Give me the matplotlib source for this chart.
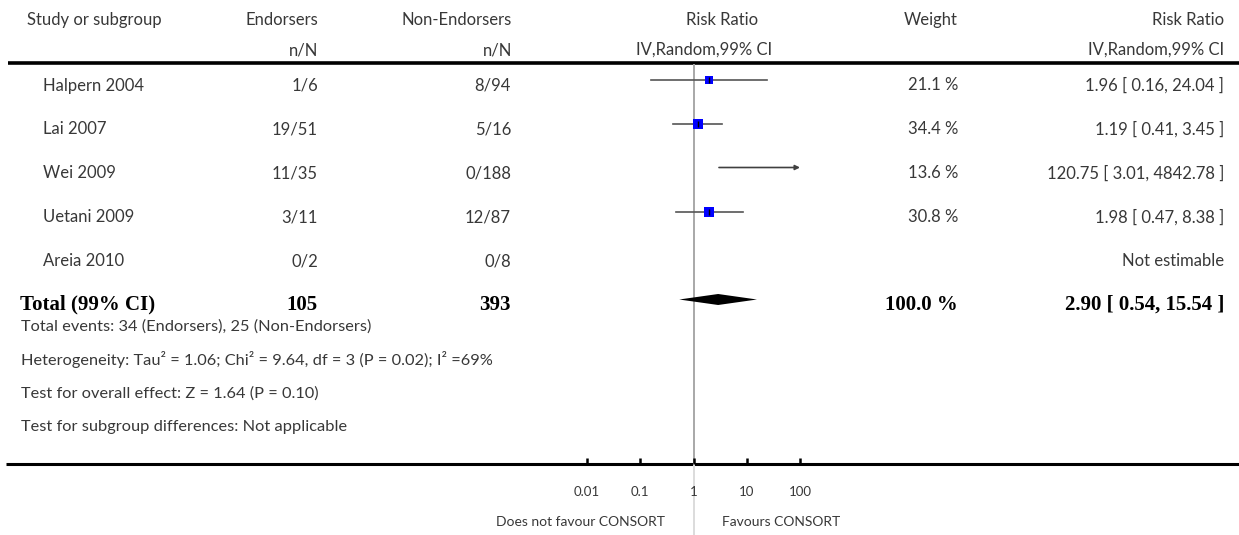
import matplotlib
matplotlib.use('Agg')
import matplotlib.pyplot as plt
import numpy as np

# study rows
studies = ['Halpern 2004', 'Lai 2007', 'Wei 2009', 'Uetani 2009', 'Areia 2010']
endorsers = ['1/6', '19/51', '11/35', '3/11', '0/2']
non_endorsers = ['8/94', '5/16', '0/188', '12/87', '0/8']
weights = [21.1, 34.4, 13.6, 30.8, None]
rr = [1.96, 1.19, 120.75, 1.98, None]
rr_lo = [0.16, 0.41, 3.01, 0.47, None]
rr_hi = [24.04, 3.45, 4842.78, 8.38, None]

# pooled estimate
total_label = 'Total (99% CI)'
total_endorsers = 105
total_non_endorsers = 393
total_weight = 100.0
total_rr, total_lo, total_hi = 2.90, 0.54, 15.54

footnotes = ['Total events: 34 (Endorsers), 25 (Non-Endorsers)',
             'Heterogeneity: Tau\u00b2 = 1.06; Chi\u00b2 = 9.64, df = 3 (P = 0.02); I\u00b2 =69%',
             'Test for overall effect: Z = 1.64 (P = 0.10)',
             'Test for subgroup differences: Not applicable']

xticks = [0.01, 0.1, 1, 10, 100]
xticklabels = ['0.01', '0.1', '1', '10', '100']
xmin, xmax = 0.01, 100

W, H = 1239, 535
REG = 'Lato'
BOLD = 'Liberation Serif'
TXT = '#383838'
fs = 12

fig = plt.figure(figsize=(W / 100, H / 100), dpi=100)
ax = fig.add_axes([0, 0, 1, 1])
ax.set_xlim(0, W)
ax.set_ylim(H, 0)
ax.axis('off')

def txt(x, y, s, ha='left', bold=False, size=None, color=TXT):
    if bold:
        ax.text(x, y, s, ha=ha, va='baseline', fontfamily=BOLD, fontweight='bold',
                fontsize=size or 15, color='black')
    else:
        ax.text(x, y, s, ha=ha, va='baseline', fontfamily=REG,
                fontsize=size or fs, color=color)

# header
txt(27, 25, 'Study or subgroup')
txt(318, 25, 'Endorsers', ha='right')
txt(318, 55, 'n/N', ha='right')
txt(512, 25, 'Non-Endorsers', ha='right')
txt(512, 55, 'n/N', ha='right')
txt(722, 25, 'Risk Ratio', ha='center')
txt(704, 55, 'IV,Random,99% CI', ha='center')
txt(958, 25, 'Weight', ha='right')
txt(1224, 25, 'Risk Ratio', ha='right')
txt(1224, 55, 'IV,Random,99% CI', ha='right')

ax.plot([8, W], [63, 63], color='black', lw=2.6, solid_capstyle='butt')
ax.plot([6, W], [464, 464], color='black', lw=2.2, solid_capstyle='butt')

rows = [79.5 + 44 * i for i in range(len(studies) + 1)]

for i, name in enumerate(studies):
    y = rows[i] + 11
    txt(43, y, name)
    txt(318, y, endorsers[i], ha='right')
    txt(511, y, non_endorsers[i], ha='right')
    if weights[i] is None:
        txt(1224, y, 'Not estimable', ha='right')
    else:
        txt(958, y, '%.1f %%' % weights[i], ha='right')
        txt(1224, y, '%.2f [ %.2f, %.2f ]' % (rr[i], rr_lo[i], rr_hi[i]), ha='right')

yt = rows[-1] + 10
txt(20, yt, total_label, bold=True)
txt(318, yt, str(total_endorsers), ha='right', bold=True)
txt(511, yt, str(total_non_endorsers), ha='right', bold=True)
txt(958, yt, '%.1f %%' % total_weight, ha='right', bold=True)
txt(1224, yt, '%.2f [ %.2f, %.2f ]' % (total_rr, total_lo, total_hi), ha='right', bold=True)

for j, s in enumerate(footnotes):
    txt(21, 331 + 33.5 * j, s, size=11.8)

# -- forest panel, log scale
x0, x1 = 587, 800
y0, y1 = 64, 464
fx = fig.add_axes([x0 / W, (H - y1) / H, (x1 - x0) / W, (y1 - y0) / H])
fx.set_xscale('log')
fx.set_xlim(xmin, xmax)
fx.set_ylim(y1, y0)
fx.patch.set_alpha(0)
for sp in fx.spines.values():
    sp.set_visible(False)
fx.set_yticks([])
fx.set_xticks(xticks)
fx.set_xticklabels(xticklabels, fontfamily=REG, fontsize=9.5, color=TXT)
fx.xaxis.set_minor_locator(matplotlib.ticker.NullLocator())
fx.tick_params(axis='x', direction='in', length=4.3, width=1.8, pad=16, color='black')

fx.plot([1, 1], [y0, y1], color='#a8a8a8', lw=1.4, zorder=1)
fx.plot([1, 1], [y1, H], color='#dcdcdc', lw=1.4, clip_on=False, zorder=1)

side_k = 8.5 * 0.72 / np.sqrt(21.1)
for i in range(len(studies)):
    if rr[i] is None:
        continue
    y = rows[i]
    lo = max(rr_lo[i], xmin)
    hi = min(rr_hi[i], xmax)
    if rr_hi[i] > xmax:
        fx.annotate('', xy=(hi, y), xytext=(lo, y),
                    arrowprops=dict(arrowstyle='-|>', color='#404040', lw=1.2,
                                    mutation_scale=7, shrinkA=0, shrinkB=0))
    else:
        fx.plot([lo, hi], [y, y], color='#555555', lw=1.2, zorder=2)
    if xmin <= rr[i] <= xmax:
        fx.plot([rr[i]], [y], marker='s', ms=side_k * np.sqrt(weights[i]),
                color='#0000ff', mew=0, zorder=3)
        fx.plot([rr[i]], [y], marker='|', ms=4, color='black', mew=1.0, zorder=4)

yd = rows[-1]
fx.fill([total_lo, total_rr, total_hi, total_rr], [yd, yd - 5.5, yd, yd + 5.5],
        color='black', lw=0, zorder=3)

txt(665, 526, 'Does not favour CONSORT', ha='right', size=10)
txt(722, 526, 'Favours CONSORT', size=10)

fig.savefig('out.png', dpi=100)
